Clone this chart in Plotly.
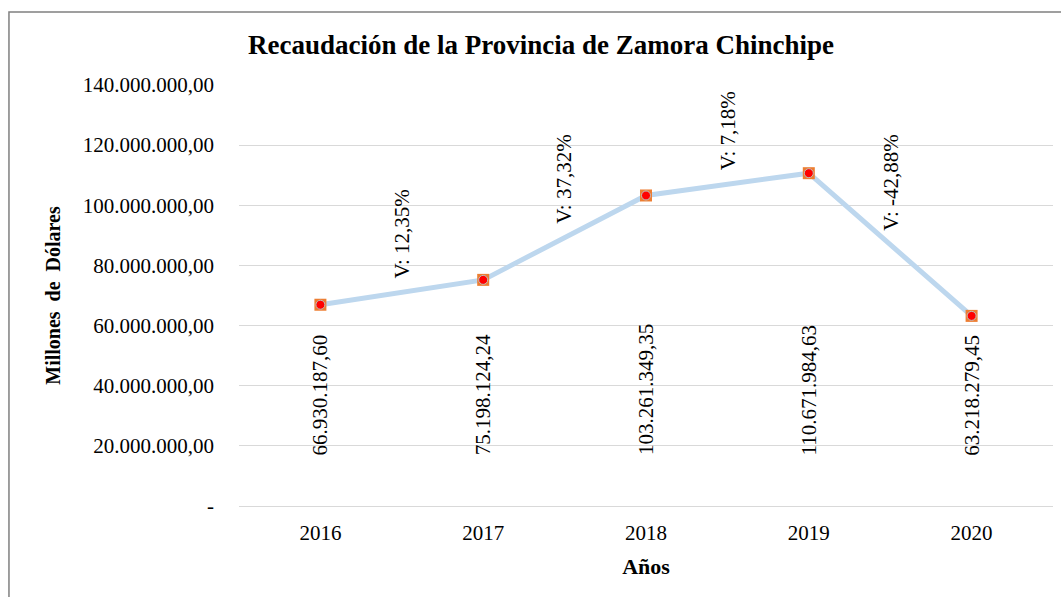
import plotly.graph_objects as go

years = ["2016", "2017", "2018", "2019", "2020"]
values = [66930187.60, 75198124.24, 103261349.35, 110671984.63, 63218279.45]
y_tickvals = [0, 20e6, 40e6, 60e6, 80e6, 100e6, 120e6, 140e6]
y_ticktext = ["-", "20.000.000,00", "40.000.000,00", "60.000.000,00", "80.000.000,00",
              "100.000.000,00", "120.000.000,00", "140.000.000,00"]


def fmt_es(v, dec=2):
    s = f"{v:,.{dec}f}"
    return s.replace(",", "X").replace(".", ",").replace("X", ".")


FONT = "Liberation Serif, Times New Roman, serif"

fig = go.Figure()
fig.add_trace(go.Scatter(
    x=years, y=values, mode="lines+markers",
    line=dict(color="#BDD7EE", width=5),
    marker=dict(symbol="square", size=12, color="#ED7D31", line=dict(width=0)),
    hoverinfo="skip", showlegend=False,
))
fig.add_trace(go.Scatter(
    x=years, y=values, mode="markers",
    marker=dict(symbol="circle", size=9, color="#FF0000", line=dict(color="#BFBFBF", width=1)),
    showlegend=False,
))

annotations = []
for i, v in enumerate(values):
    annotations.append(dict(
        x=i, y=0.115, xref="x", yref="paper", text=fmt_es(v), textangle=-90,
        showarrow=False, font=dict(family=FONT, size=21, color="black"),
        xanchor="center", yanchor="bottom",
    ))
for i in range(1, len(values)):
    pct = (values[i] / values[i - 1] - 1) * 100
    mid = (values[i] + values[i - 1]) / 2
    annotations.append(dict(
        x=i - 0.5, y=mid + 4e6, xref="x", yref="y",
        text="V: " + fmt_es(pct) + "%", textangle=-90,
        showarrow=False, font=dict(family=FONT, size=21, color="black"),
        xanchor="center", yanchor="bottom",
    ))

fig.update_layout(
    width=1061, height=597,
    margin=dict(l=239, r=8, t=85, b=91),
    paper_bgcolor="white", plot_bgcolor="white",
    title=dict(text="<b>Recaudación de la Provincia de Zamora Chinchipe</b>",
               x=0.51, xanchor="center", y=0.925, yanchor="middle",
               font=dict(family=FONT, size=27, color="black")),
    font=dict(family=FONT, size=21, color="black"),
    annotations=annotations,
    shapes=[dict(type="rect", xref="paper", yref="paper",
                 x0=-0.2826, x1=1.2, y0=-0.5, y1=1.1734,
                 line=dict(color="#808080", width=1.5), fillcolor="rgba(0,0,0,0)",
                 layer="below")],
)
fig.update_xaxes(
    type="category", range=[-0.5, 4.5],
    showgrid=False, showline=False, zeroline=False, ticks="",
    tickfont=dict(family=FONT, size=21, color="black"),
    ticklabelstandoff=12,
    title=dict(text="<b>Años</b>", font=dict(family=FONT, size=22, color="black"), standoff=14),
)
fig.update_yaxes(
    range=[0, 140e6], tickvals=y_tickvals, ticktext=y_ticktext,
    showgrid=True, gridcolor="#D9D9D9", gridwidth=1.2,
    zeroline=True, zerolinecolor="#D9D9D9", zerolinewidth=1.2,
    showline=False, ticks="",
    ticklabelstandoff=24,
    tickfont=dict(family=FONT, size=21, color="black"),
    title=dict(text="<b>Millones&nbsp; de&nbsp; Dólares</b>",
               font=dict(family=FONT, size=20, color="black"), standoff=16),
)

fig.write_html("out.html", config={"displayModeBar": False},
               post_script="document.body.style.margin='0';")
